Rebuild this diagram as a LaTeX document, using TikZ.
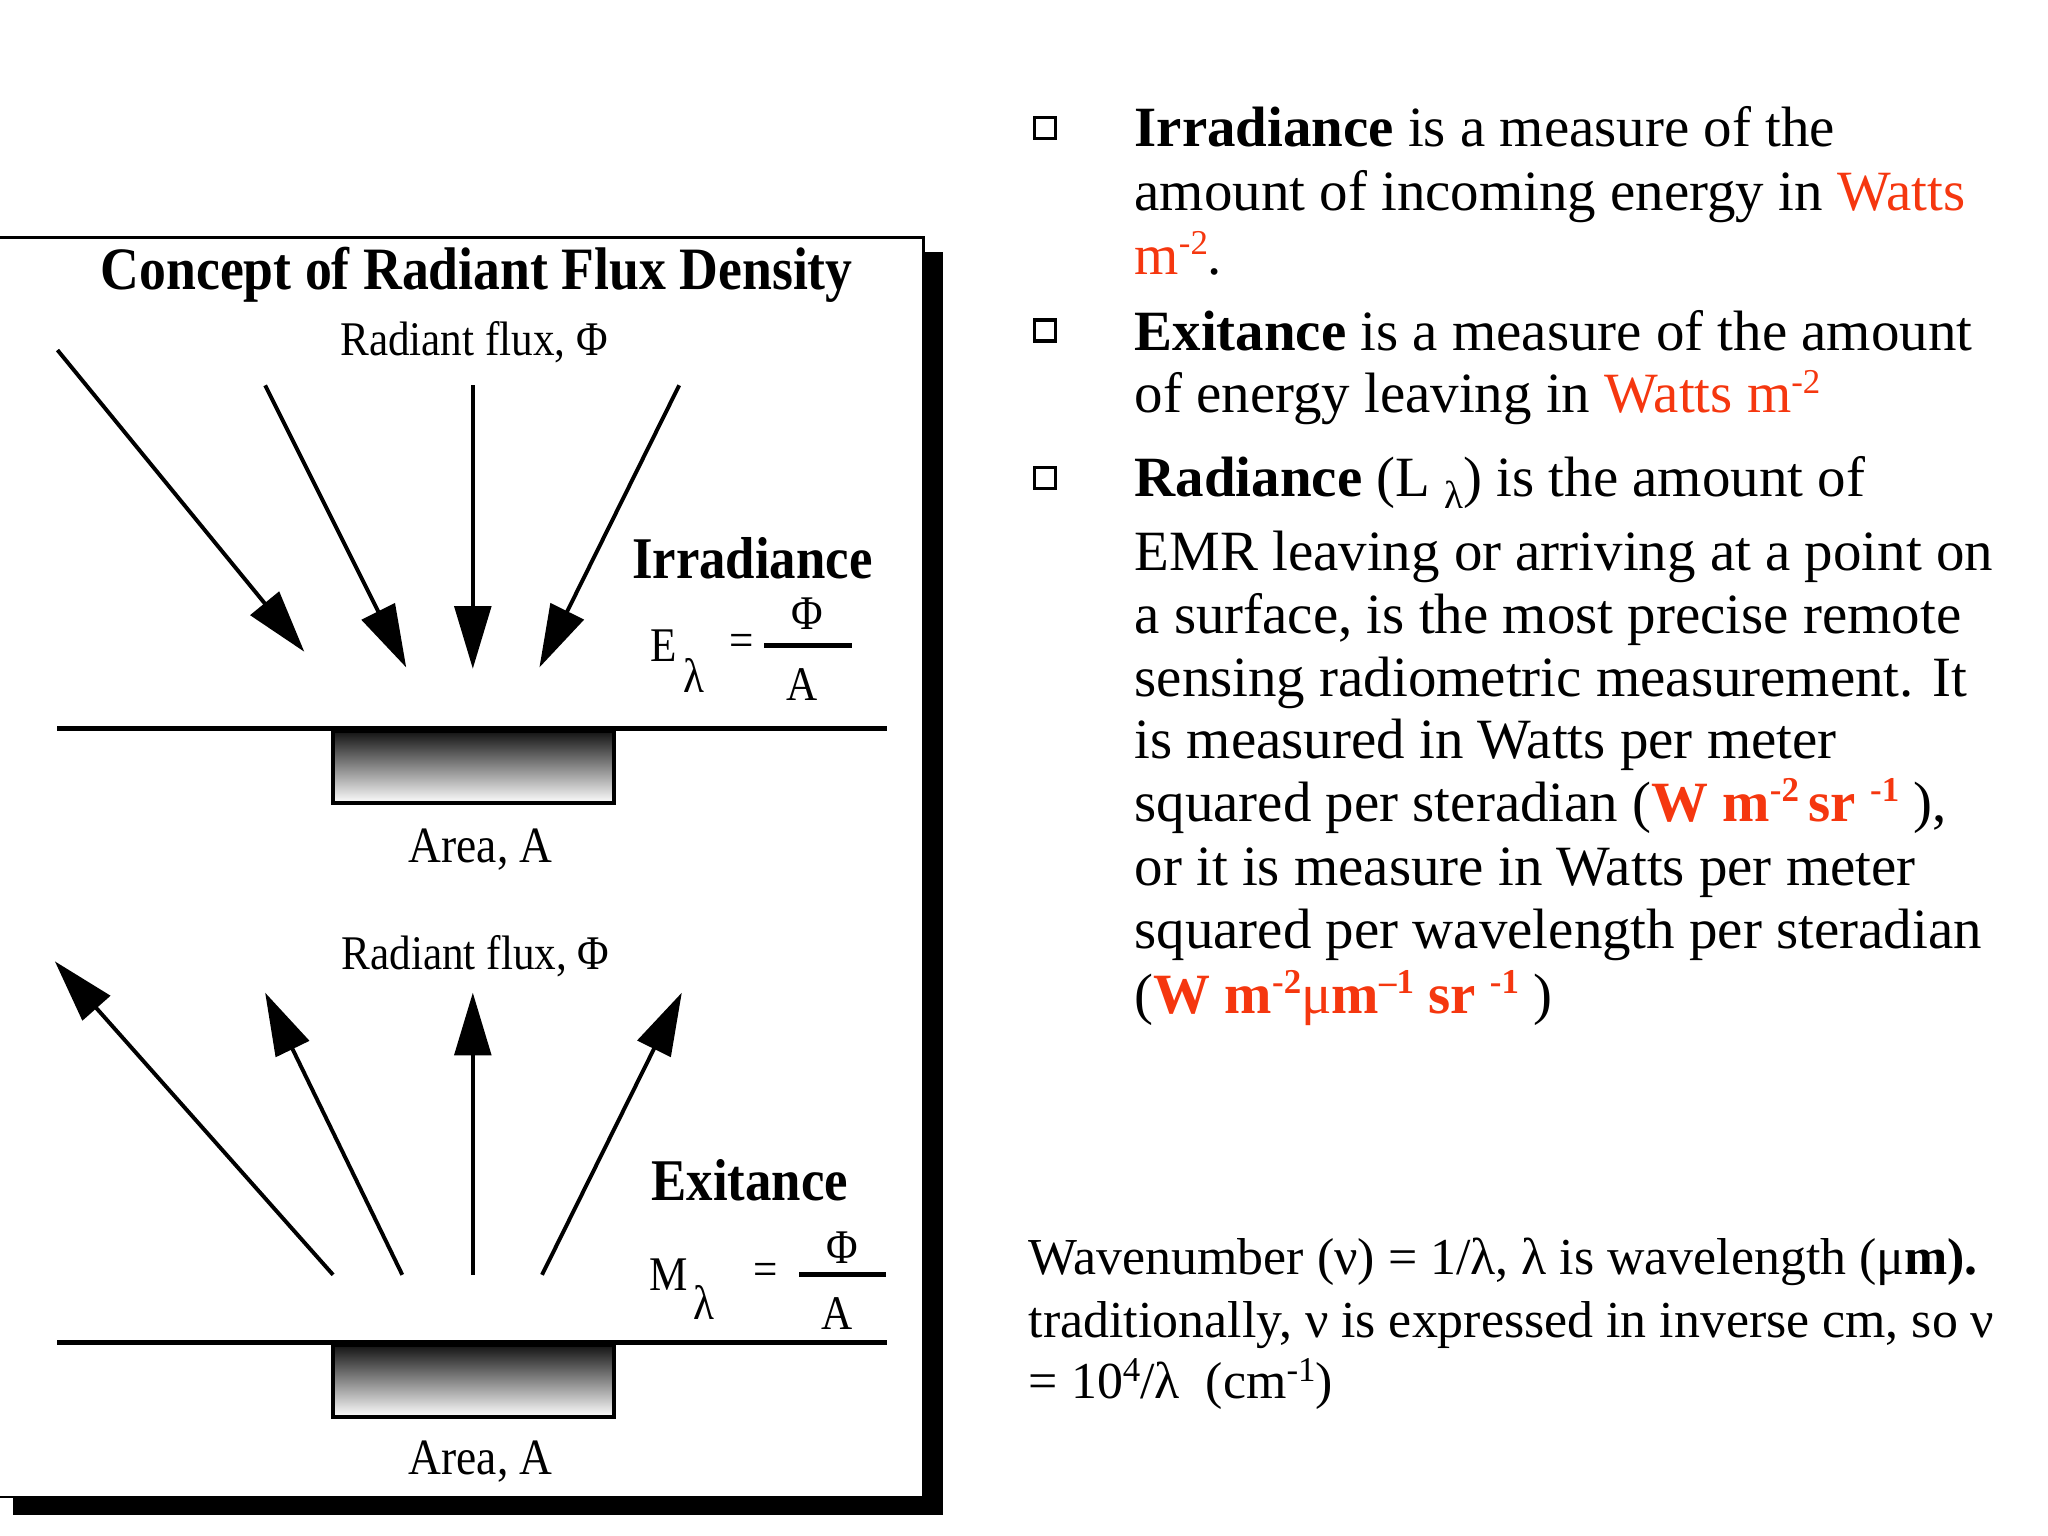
\documentclass[tikz,border=0pt]{standalone}
\usepackage{fontspec}
\usepackage{graphicx}
\setmainfont{Liberation Serif}
\usetikzlibrary{arrows.meta}
\definecolor{unitred}{RGB}{245,55,15}
\newcommand{\rd}[1]{\textcolor{unitred}{#1}}
\newcommand{\sy}[1]{\scalebox{1}[1.12]{#1}}
\newcommand{\lsub}{\raisebox{-0.45ex}{\fontsize{8.5}{9}\selectfont λ}}
\newcommand{\spr}[1]{\raisebox{0.75ex}{\fontsize{7.6}{8}\selectfont #1}}
\begin{document}
\begin{tikzpicture}[x=0.1mm,y=-0.1mm,
  body/.style={anchor=base west, inner sep=0pt, font=\fontsize{12.4}{14}\selectfont},
  note/.style={anchor=base west, inner sep=0pt, font=\fontsize{11.3}{13}\selectfont},
  bullet/.style={draw, line width=0.25mm, minimum size=1.6mm, inner sep=0pt},
  ray/.style={line width=0.3mm, -{Triangle[length=4.8mm,width=2.8mm]}},
  dlabel/.style={inner sep=0pt, font=\fontsize{9.4}{11}\selectfont},
  dhead/.style={inner sep=0pt, anchor=base, font=\fontsize{11.5}{13}\bfseries\selectfont},
  ground/.style={line width=0.4mm},
  areabox/.style={line width=0.3mm},
  frac/.style={line width=0.4mm}
]
\useasboundingbox (0,0) rectangle (1568,1176);
\clip (0,0) rectangle (1568,1176);

% ---------- framed diagram ----------
\fill[black] (10,1146) rectangle (722,1160);
\fill[black] (708,193) rectangle (722,1160);
\draw[line width=0.2mm, fill=white] (-20,182) rectangle (707,1146);

\node[dhead, font=\fontsize{11.7}{13}\bfseries\selectfont] (title) at (365,222) {\sy{Concept of Radiant Flux Density}};

% upper: irradiance
\node[dlabel, anchor=base] (rf1) at (363,272) {\sy{Radiant flux, Φ}};
\coordinate (i1s) at (44,268);  \coordinate (i1e) at (233,499);
\coordinate (i2s) at (203,295); \coordinate (i2e) at (311,511);
\coordinate (i3s) at (362,295); \coordinate (i3e) at (362,512);
\coordinate (i4s) at (520,295); \coordinate (i4e) at (413,511);
\draw[ray] (i1s) -- (i1e);
\draw[ray] (i2s) -- (i2e);
\draw[ray] (i3s) -- (i3e);
\draw[ray] (i4s) -- (i4e);

\node[dhead] (irr) at (576,443) {\sy{Irradiance}};
\node[dlabel] (E) at (508,494) {\sy{E}};
\node[dlabel] (El) at (531,517) {\sy{λ}};
\node[dlabel] (Eeq) at (568,494) {\sy{=}};
\coordinate (Ef1) at (585,494); \coordinate (Ef2) at (652,494);
\draw[frac] (Ef1) -- (Ef2);
\node[dlabel] (Ephi) at (618,470) {\sy{Φ}};
\node[dlabel] (EA) at (614,524) {\sy{A}};

\coordinate (g1a) at (44,558); \coordinate (g1b) at (679,558);
\shade[top color=black!92, bottom color=white] (255,560) rectangle (470,615);
\draw[areabox] (255,560) rectangle (470,615);
\draw[ground] (g1a) -- (g1b);
\node[dlabel, anchor=base, font=\fontsize{9.9}{11}\selectfont] (ar1) at (368,660) {\sy{Area, A}};

% lower: exitance
\node[dlabel, anchor=base] (rf2) at (364,742) {\sy{Radiant flux, Φ}};
\coordinate (o1s) at (255,976); \coordinate (o1e) at (42,736);
\coordinate (o2s) at (308,976); \coordinate (o2e) at (203,760);
\coordinate (o3s) at (362,976); \coordinate (o3e) at (362,760);
\coordinate (o4s) at (415,976); \coordinate (o4e) at (522,760);
\draw[ray] (o1s) -- (o1e);
\draw[ray] (o2s) -- (o2e);
\draw[ray] (o3s) -- (o3e);
\draw[ray] (o4s) -- (o4e);

\node[dhead] (exi) at (574,919) {\sy{Exitance}};
\node[dlabel] (M) at (512,976) {\sy{M}};
\node[dlabel] (Ml) at (539,997) {\sy{λ}};
\node[dlabel] (Meq) at (586,976) {\sy{=}};
\coordinate (Mf1) at (612,976); \coordinate (Mf2) at (678,976);
\draw[frac] (Mf1) -- (Mf2);
\node[dlabel] (Mphi) at (645,955) {\sy{Φ}};
\node[dlabel] (MA) at (641,1006) {\sy{A}};

\coordinate (g2a) at (44,1028); \coordinate (g2b) at (679,1028);
\shade[top color=black!92, bottom color=white] (255,1030) rectangle (470,1085);
\draw[areabox] (255,1030) rectangle (470,1085);
\draw[ground] (g2a) -- (g2b);
\node[dlabel, anchor=base, font=\fontsize{9.9}{11}\selectfont] (ar2) at (368,1129) {\sy{Area, A}};

% ---------- right-hand text ----------
\node[bullet] (b1) at (800,98) {};
\node[bullet] (b2) at (800,253) {};
\node[bullet] (b3) at (800,366) {};

\node[body] (p1a) at (868,112) {\textbf{Irradiance} is a measure of the};
\node[body] (p1b) at (868,161) {amount of incoming energy in \rd{Watts}};
\node[body] (p1c) at (868,210) {\rd{m\spr{-2}}.};

\node[body] (p2a) at (868,268) {\textbf{Exitance} is a measure of the amount};
\node[body] (p2b) at (868,316) {of energy leaving in \rd{Watts m\spr{-2}}};

\node[body] (p3a) at (868,380) {\textbf{Radiance} (L \lsub) is the amount of};
\node[body] (p3b) at (868,437) {EMR leaving or arriving at a point on};
\node[body] (p3c) at (868,485) {a surface, is the most precise remote};
\node[body] (p3d) at (868,533) {sensing radiometric measurement. It};
\node[body] (p3e) at (868,581) {is measured in Watts per meter};
\node[body] (p3f) at (868,629) {squared per steradian (\rd{\textbf{W m\spr{-2}\,sr \spr{-1}}} ),};
\node[body] (p3g) at (868,678) {or it is measure in Watts per meter};
\node[body] (p3h) at (868,726) {squared per wavelength per steradian};
\node[body] (p3i) at (868,776) {(\rd{\textbf{W m\spr{-2}}μ\textbf{m\spr{–1} sr \spr{-1}}} )};

\node[note] (n1) at (787,976) {Wavenumber (ν) = 1/λ, λ is wavelength (μ\textbf{m).}};
\node[note] (n2) at (787,1024) {traditionally, ν is expressed in inverse cm, so ν};
\node[note] (n3) at (787,1071) {= 10\spr{4}/λ\ \ (cm\spr{-1})};
\end{tikzpicture}
\end{document}
